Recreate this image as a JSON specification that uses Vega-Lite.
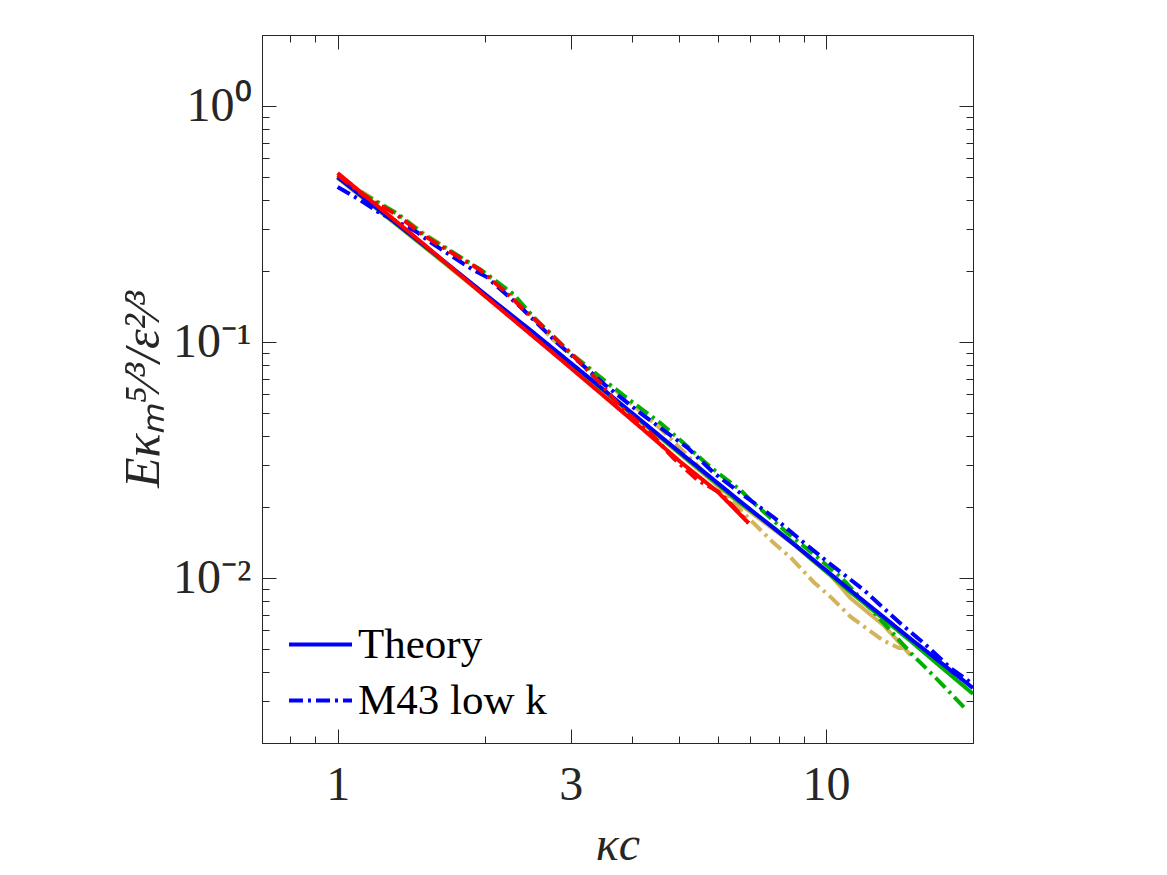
{
  "$schema": "https://vega.github.io/schema/vega-lite/v6.json",
  "width": 711,
  "height": 708,
  "autosize": {"type": "none"},
  "padding": {"left": 262, "top": 35, "right": 194, "bottom": 132},
  "background": "white",
  "config": {
    "view": {"stroke": "#262626", "strokeWidth": 1},
    "font": "Liberation Serif",
    "axis": {
      "grid": false,
      "domainColor": "#262626",
      "domainWidth": 1,
      "tickColor": "#262626",
      "tickWidth": 1,
      "labelColor": "#262626",
      "titleColor": "#262626",
      "labelFont": "Liberation Serif",
      "titleFont": "Liberation Serif",
      "labelFontSize": 48,
      "titleFontSize": 50,
      "titleFontWeight": "normal"
    }
  },
  "datasets": {
    "spectra": [
      {"case": "D", "model": "Theory", "k": 1, "v": 0.495},
      {"case": "D", "model": "Theory", "k": 1.5, "v": 0.254},
      {"case": "D", "model": "Theory", "k": 2, "v": 0.157},
      {"case": "D", "model": "Theory", "k": 2.5, "v": 0.109},
      {"case": "D", "model": "Theory", "k": 3.45, "v": 0.0635},
      {"case": "D", "model": "Theory", "k": 5.04, "v": 0.0333},
      {"case": "D", "model": "Theory", "k": 6.68, "v": 0.0205},
      {"case": "D", "model": "Theory", "k": 8.5, "v": 0.0141},
      {"case": "D", "model": "Theory", "k": 10.2, "v": 0.0103},
      {"case": "D", "model": "Theory", "k": 11.24, "v": 0.0082},
      {"case": "D", "model": "Theory", "k": 13.13, "v": 0.0063},
      {"case": "D", "model": "Theory", "k": 14.92, "v": 0.0047},

      {"case": "D", "model": "M43 low k", "k": 1, "v": 0.495},
      {"case": "D", "model": "M43 low k", "k": 1.127, "v": 0.43},
      {"case": "D", "model": "M43 low k", "k": 1.324, "v": 0.35},
      {"case": "D", "model": "M43 low k", "k": 1.496, "v": 0.29},
      {"case": "D", "model": "M43 low k", "k": 1.987, "v": 0.198},
      {"case": "D", "model": "M43 low k", "k": 2.289, "v": 0.158},
      {"case": "D", "model": "M43 low k", "k": 2.516, "v": 0.126},
      {"case": "D", "model": "M43 low k", "k": 2.765, "v": 0.102},
      {"case": "D", "model": "M43 low k", "k": 3.186, "v": 0.0815},
      {"case": "D", "model": "M43 low k", "k": 3.79, "v": 0.06},
      {"case": "D", "model": "M43 low k", "k": 4.58, "v": 0.043},
      {"case": "D", "model": "M43 low k", "k": 5.5, "v": 0.0295},
      {"case": "D", "model": "M43 low k", "k": 6.08, "v": 0.0238},
      {"case": "D", "model": "M43 low k", "k": 7.01, "v": 0.0176},
      {"case": "D", "model": "M43 low k", "k": 7.78, "v": 0.0142},
      {"case": "D", "model": "M43 low k", "k": 8.47, "v": 0.0122},
      {"case": "D", "model": "M43 low k", "k": 9.44, "v": 0.0096},
      {"case": "D", "model": "M43 low k", "k": 10.23, "v": 0.0083},
      {"case": "D", "model": "M43 low k", "k": 11.24, "v": 0.00684},
      {"case": "D", "model": "M43 low k", "k": 13.06, "v": 0.00546},
      {"case": "D", "model": "M43 low k", "k": 14.1, "v": 0.00505},
      {"case": "D", "model": "M43 low k", "k": 14.8, "v": 0.00505},

      {"case": "C", "model": "Theory", "k": 1, "v": 0.5},
      {"case": "C", "model": "Theory", "k": 1.5, "v": 0.256},
      {"case": "C", "model": "Theory", "k": 2, "v": 0.159},
      {"case": "C", "model": "Theory", "k": 2.5, "v": 0.11},
      {"case": "C", "model": "Theory", "k": 3.45, "v": 0.064},
      {"case": "C", "model": "Theory", "k": 5.04, "v": 0.0336},
      {"case": "C", "model": "Theory", "k": 6.68, "v": 0.0208},
      {"case": "C", "model": "Theory", "k": 7.8, "v": 0.0164},
      {"case": "C", "model": "Theory", "k": 8.5, "v": 0.0143},
      {"case": "C", "model": "Theory", "k": 9.17, "v": 0.0124},
      {"case": "C", "model": "Theory", "k": 11.24, "v": 0.0087},
      {"case": "C", "model": "Theory", "k": 14.92, "v": 0.0054},
      {"case": "C", "model": "Theory", "k": 17.2, "v": 0.0042},
      {"case": "C", "model": "Theory", "k": 20, "v": 0.00323},

      {"case": "C", "model": "M43 low k", "k": 1, "v": 0.5},
      {"case": "C", "model": "M43 low k", "k": 1.127, "v": 0.425},
      {"case": "C", "model": "M43 low k", "k": 1.324, "v": 0.35},
      {"case": "C", "model": "M43 low k", "k": 1.496, "v": 0.287},
      {"case": "C", "model": "M43 low k", "k": 1.959, "v": 0.203},
      {"case": "C", "model": "M43 low k", "k": 2.289, "v": 0.16},
      {"case": "C", "model": "M43 low k", "k": 2.516, "v": 0.128},
      {"case": "C", "model": "M43 low k", "k": 2.996, "v": 0.0897},
      {"case": "C", "model": "M43 low k", "k": 3.51, "v": 0.069},
      {"case": "C", "model": "M43 low k", "k": 4.035, "v": 0.0552},
      {"case": "C", "model": "M43 low k", "k": 4.58, "v": 0.0454},
      {"case": "C", "model": "M43 low k", "k": 5.11, "v": 0.0373},
      {"case": "C", "model": "M43 low k", "k": 5.8, "v": 0.0295},
      {"case": "C", "model": "M43 low k", "k": 6.68, "v": 0.0236},
      {"case": "C", "model": "M43 low k", "k": 7.07, "v": 0.021},
      {"case": "C", "model": "M43 low k", "k": 8.35, "v": 0.0155},
      {"case": "C", "model": "M43 low k", "k": 9.62, "v": 0.0122},
      {"case": "C", "model": "M43 low k", "k": 10.72, "v": 0.0101},
      {"case": "C", "model": "M43 low k", "k": 12.5, "v": 0.0072},
      {"case": "C", "model": "M43 low k", "k": 14.92, "v": 0.00481},
      {"case": "C", "model": "M43 low k", "k": 17.19, "v": 0.00359},
      {"case": "C", "model": "M43 low k", "k": 19.4, "v": 0.00276},

      {"case": "A", "model": "Theory", "k": 1, "v": 0.5},
      {"case": "A", "model": "Theory", "k": 1.5, "v": 0.258},
      {"case": "A", "model": "Theory", "k": 2, "v": 0.16},
      {"case": "A", "model": "Theory", "k": 2.5, "v": 0.111},
      {"case": "A", "model": "Theory", "k": 3.45, "v": 0.0645},
      {"case": "A", "model": "Theory", "k": 5.04, "v": 0.0339},
      {"case": "A", "model": "Theory", "k": 6.68, "v": 0.0211},
      {"case": "A", "model": "Theory", "k": 7.35, "v": 0.018},
      {"case": "A", "model": "Theory", "k": 9.17, "v": 0.0125},
      {"case": "A", "model": "Theory", "k": 11.24, "v": 0.00885},
      {"case": "A", "model": "Theory", "k": 14.92, "v": 0.00552},
      {"case": "A", "model": "Theory", "k": 20, "v": 0.00342},

      {"case": "A", "model": "M43 low k", "k": 1, "v": 0.454},
      {"case": "A", "model": "M43 low k", "k": 1.111, "v": 0.4},
      {"case": "A", "model": "M43 low k", "k": 1.21, "v": 0.356},
      {"case": "A", "model": "M43 low k", "k": 1.455, "v": 0.292},
      {"case": "A", "model": "M43 low k", "k": 1.547, "v": 0.265},
      {"case": "A", "model": "M43 low k", "k": 1.895, "v": 0.202},
      {"case": "A", "model": "M43 low k", "k": 2.025, "v": 0.188},
      {"case": "A", "model": "M43 low k", "k": 2.083, "v": 0.178},
      {"case": "A", "model": "M43 low k", "k": 2.366, "v": 0.141},
      {"case": "A", "model": "M43 low k", "k": 2.818, "v": 0.0991},
      {"case": "A", "model": "M43 low k", "k": 3.4, "v": 0.0704},
      {"case": "A", "model": "M43 low k", "k": 3.53, "v": 0.0657},
      {"case": "A", "model": "M43 low k", "k": 4.17, "v": 0.05},
      {"case": "A", "model": "M43 low k", "k": 5.21, "v": 0.0356},
      {"case": "A", "model": "M43 low k", "k": 5.89, "v": 0.0279},
      {"case": "A", "model": "M43 low k", "k": 6.68, "v": 0.0229},
      {"case": "A", "model": "M43 low k", "k": 7.81, "v": 0.0181},
      {"case": "A", "model": "M43 low k", "k": 8.87, "v": 0.0145},
      {"case": "A", "model": "M43 low k", "k": 10.08, "v": 0.0117},
      {"case": "A", "model": "M43 low k", "k": 11.95, "v": 0.0089},
      {"case": "A", "model": "M43 low k", "k": 14.23, "v": 0.0064},
      {"case": "A", "model": "M43 low k", "k": 15.86, "v": 0.0053},
      {"case": "A", "model": "M43 low k", "k": 18.01, "v": 0.00415},
      {"case": "A", "model": "M43 low k", "k": 20, "v": 0.00355},

      {"case": "B", "model": "Theory", "k": 1, "v": 0.52},
      {"case": "B", "model": "Theory", "k": 1.5, "v": 0.26},
      {"case": "B", "model": "Theory", "k": 2, "v": 0.157},
      {"case": "B", "model": "Theory", "k": 2.85, "v": 0.085},
      {"case": "B", "model": "Theory", "k": 3.45, "v": 0.0608},
      {"case": "B", "model": "Theory", "k": 4.2, "v": 0.043},
      {"case": "B", "model": "Theory", "k": 5.04, "v": 0.031},
      {"case": "B", "model": "Theory", "k": 6.0, "v": 0.0232},
      {"case": "B", "model": "Theory", "k": 6.94, "v": 0.0171},

      {"case": "B", "model": "M43 low k", "k": 1, "v": 0.51},
      {"case": "B", "model": "M43 low k", "k": 1.127, "v": 0.42},
      {"case": "B", "model": "M43 low k", "k": 1.324, "v": 0.345},
      {"case": "B", "model": "M43 low k", "k": 1.496, "v": 0.284},
      {"case": "B", "model": "M43 low k", "k": 1.782, "v": 0.227},
      {"case": "B", "model": "M43 low k", "k": 1.959, "v": 0.202},
      {"case": "B", "model": "M43 low k", "k": 2.185, "v": 0.166},
      {"case": "B", "model": "M43 low k", "k": 2.445, "v": 0.133},
      {"case": "B", "model": "M43 low k", "k": 2.688, "v": 0.112},
      {"case": "B", "model": "M43 low k", "k": 2.954, "v": 0.0925},
      {"case": "B", "model": "M43 low k", "k": 3.45, "v": 0.067},
      {"case": "B", "model": "M43 low k", "k": 3.793, "v": 0.0531},
      {"case": "B", "model": "M43 low k", "k": 4.37, "v": 0.0412},
      {"case": "B", "model": "M43 low k", "k": 4.87, "v": 0.0322},
      {"case": "B", "model": "M43 low k", "k": 5.46, "v": 0.026},
      {"case": "B", "model": "M43 low k", "k": 6.08, "v": 0.0229},
      {"case": "B", "model": "M43 low k", "k": 6.77, "v": 0.0181},
      {"case": "B", "model": "M43 low k", "k": 6.94, "v": 0.0171}
    ]
  },
  "data": {"name": "spectra"},
  "layer": [
    {
      "transform": [{"filter": "datum.case == 'D' || datum.case == 'C'"}],
      "mark": {"type": "line", "strokeWidth": 4, "strokeCap": "butt", "clip": true},
      "encoding": {
        "x": {
          "field": "k", "type": "quantitative",
          "scale": {"type": "log", "domain": [0.7, 20]},
          "axis": {
            "orient": "bottom",
            "values": [0.8, 0.9, 1, 2, 3, 4, 5, 6, 7, 8, 9, 10, 20],
            "tickSize": {"condition": {"test": "datum.value == 1 || datum.value == 3 || datum.value == 10", "value": -14}, "value": -7},
            "labelExpr": "datum.value == 1 ? '1' : datum.value == 3 ? '3' : datum.value == 10 ? '10' : ''",
            "labelPadding": 32,
            "labelFlush": false,
            "labelOverlap": false,
            "title": "κc",
            "titleFontSize": 48,
            "titleFontStyle": "italic",
            "titlePadding": 5
          }
        },
        "y": {
          "field": "v", "type": "quantitative",
          "scale": {"type": "log", "domain": [0.002, 2]},
          "axis": {
            "orient": "left",
            "values": [0.002, 0.003, 0.004, 0.005, 0.006, 0.007, 0.008, 0.009, 0.01, 0.02, 0.03, 0.04, 0.05, 0.06, 0.07, 0.08, 0.09, 0.1, 0.2, 0.3, 0.4, 0.5, 0.6, 0.7, 0.8, 0.9, 1, 2],
            "tickSize": {"condition": {"test": "datum.value == 1 || datum.value == 0.1 || datum.value == 0.01", "value": -14}, "value": -7},
            "labelExpr": "datum.value == 1 ? '10⁰' : datum.value == 0.1 ? '10⁻¹' : datum.value == 0.01 ? '10⁻²' : ''",
            "labelPadding": 25,
            "labelFlush": false,
            "labelOverlap": false,
            "title": "Eκₘ⁵⁄³/ε²⁄³",
            "titleFontStyle": "italic",
            "titlePadding": 4
          }
        },
        "color": {
          "field": "case", "type": "nominal",
          "scale": {"domain": ["A", "B", "C", "D"], "range": ["#0000ff", "#ff0000", "#00b000", "#d4b35a"]},
          "legend": null
        },
        "strokeDash": {
          "field": "model", "type": "nominal",
          "scale": {"domain": ["Theory", "M43 low k"], "range": [[1, 0], [14, 5, 3, 5]]},
          "legend": {
            "title": null,
            "orient": "none",
            "legendX": 25,
            "legendY": 576,
            "padding": 0,
            "symbolType": "stroke",
            "symbolSize": 3969,
            "symbolStrokeWidth": 4,
            "symbolStrokeColor": "#0000ff",
            "labelFont": "Liberation Serif",
            "labelFontSize": 43,
            "labelColor": "#000000",
            "labelLimit": 400,
            "labelOffset": 4,
            "rowPadding": -15
          }
        }
      }
    },
    {
      "transform": [{"filter": "datum.case == 'A' || datum.case == 'B'"}],
      "mark": {"type": "line", "strokeWidth": 4, "strokeCap": "butt", "clip": true},
      "encoding": {
        "x": {
          "field": "k", "type": "quantitative",
          "scale": {"type": "log", "domain": [0.7, 20]},
          "axis": {
            "orient": "top",
            "values": [0.8, 0.9, 1, 2, 3, 4, 5, 6, 7, 8, 9, 10, 20],
            "tickSize": {"condition": {"test": "datum.value == 1 || datum.value == 3 || datum.value == 10", "value": -14}, "value": -7},
            "labels": false,
            "domain": false,
            "title": null
          }
        },
        "y": {
          "field": "v", "type": "quantitative",
          "scale": {"type": "log", "domain": [0.002, 2]},
          "axis": {
            "orient": "right",
            "values": [0.002, 0.003, 0.004, 0.005, 0.006, 0.007, 0.008, 0.009, 0.01, 0.02, 0.03, 0.04, 0.05, 0.06, 0.07, 0.08, 0.09, 0.1, 0.2, 0.3, 0.4, 0.5, 0.6, 0.7, 0.8, 0.9, 1, 2],
            "tickSize": {"condition": {"test": "datum.value == 1 || datum.value == 0.1 || datum.value == 0.01", "value": -14}, "value": -7},
            "labels": false,
            "domain": false,
            "title": null
          }
        },
        "color": {
          "field": "case", "type": "nominal",
          "scale": {"domain": ["A", "B", "C", "D"], "range": ["#0000ff", "#ff0000", "#00b000", "#d4b35a"]},
          "legend": null
        },
        "strokeDash": {
          "field": "model", "type": "nominal",
          "scale": {"domain": ["Theory", "M43 low k"], "range": [[1, 0], [14, 5, 3, 5]]},
          "legend": {
            "title": null,
            "orient": "none",
            "legendX": 25,
            "legendY": 576,
            "padding": 0,
            "symbolType": "stroke",
            "symbolSize": 3969,
            "symbolStrokeWidth": 4,
            "symbolStrokeColor": "#0000ff",
            "labelFont": "Liberation Serif",
            "labelFontSize": 43,
            "labelColor": "#000000",
            "labelLimit": 400,
            "labelOffset": 4,
            "rowPadding": -15
          }
        }
      }
    }
  ],
  "resolve": {"axis": {"x": "independent", "y": "independent"}}
}
